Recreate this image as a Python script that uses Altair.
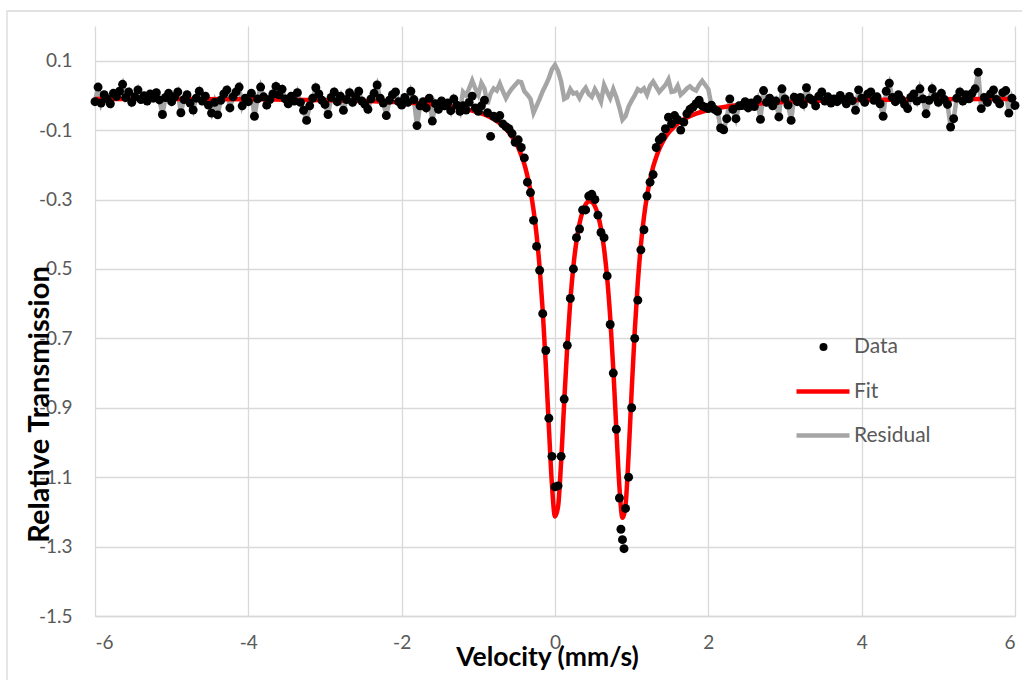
import altair as alt
import pandas as pd

# ---------------- data ----------------
vel = [
    -6.00, -5.96, -5.92, -5.88, -5.84, -5.80, -5.76, -5.72, -5.68, -5.64,
    -5.60, -5.56, -5.52, -5.48, -5.44, -5.40, -5.36, -5.32, -5.28, -5.24,
    -5.20, -5.16, -5.12, -5.08, -5.04, -5.00, -4.96, -4.92, -4.88, -4.84,
    -4.80, -4.76, -4.72, -4.68, -4.64, -4.60, -4.56, -4.52, -4.48, -4.44,
    -4.40, -4.36, -4.32, -4.28, -4.24, -4.20, -4.16, -4.12, -4.08, -4.04,
    -4.00, -3.96, -3.92, -3.88, -3.84, -3.80, -3.76, -3.72, -3.68, -3.64,
    -3.60, -3.56, -3.52, -3.48, -3.44, -3.40, -3.36, -3.32, -3.28, -3.24,
    -3.20, -3.16, -3.12, -3.08, -3.04, -3.00, -2.96, -2.92, -2.88, -2.84,
    -2.80, -2.76, -2.72, -2.68, -2.64, -2.60, -2.56, -2.52, -2.48, -2.44,
    -2.40, -2.36, -2.32, -2.28, -2.24, -2.20, -2.16, -2.12, -2.08, -2.04,
    -2.00, -1.96, -1.92, -1.88, -1.84, -1.80, -1.76, -1.72, -1.68, -1.64,
    -1.60, -1.56, -1.52, -1.48, -1.44, -1.40, -1.36, -1.32, -1.28, -1.24,
    -1.20, -1.16, -1.12, -1.08, -1.04, -1.00, -0.96, -0.92, -0.88, -0.84,
    -0.80, -0.76, -0.72, -0.68, -0.64, -0.60, -0.56, -0.52, -0.48, -0.44,
    -0.40, -0.36, -0.32, -0.28, -0.24, -0.20, -0.16, -0.12, -0.08, -0.04,
    0.00, 0.04, 0.08, 0.12, 0.16, 0.20, 0.24, 0.28, 0.32, 0.36,
    0.40, 0.44, 0.48, 0.52, 0.56, 0.60, 0.64, 0.68, 0.72, 0.76,
    0.80, 0.84, 0.88, 0.92, 0.96, 1.00, 1.04, 1.08, 1.12, 1.16,
    1.20, 1.24, 1.28, 1.32, 1.36, 1.40, 1.44, 1.48, 1.52, 1.56,
    1.60, 1.64, 1.68, 1.72, 1.76, 1.80, 1.84, 1.88, 1.92, 1.96,
    2.00, 2.04, 2.08, 2.12, 2.16, 2.20, 2.24, 2.28, 2.32, 2.36,
    2.40, 2.44, 2.48, 2.52, 2.56, 2.60, 2.64, 2.68, 2.72, 2.76,
    2.80, 2.84, 2.88, 2.92, 2.96, 3.00, 3.04, 3.08, 3.12, 3.16,
    3.20, 3.24, 3.28, 3.32, 3.36, 3.40, 3.44, 3.48, 3.52, 3.56,
    3.60, 3.64, 3.68, 3.72, 3.76, 3.80, 3.84, 3.88, 3.92, 3.96,
    4.00, 4.04, 4.08, 4.12, 4.16, 4.20, 4.24, 4.28, 4.32, 4.36,
    4.40, 4.44, 4.48, 4.52, 4.56, 4.60, 4.64, 4.68, 4.72, 4.76,
    4.80, 4.84, 4.88, 4.92, 4.96, 5.00, 5.04, 5.08, 5.12, 5.16,
    5.20, 5.24, 5.28, 5.32, 5.36, 5.40, 5.44, 5.48, 5.52, 5.56,
    5.60, 5.64, 5.68, 5.72, 5.76, 5.80, 5.84, 5.88, 5.92, 5.96,
    6.00,
]

trans = [
    -0.018, 0.024, -0.022, 0.002, -0.010, -0.024, 0.006, -0.003, 0.012, 0.032,
    -0.006, 0.010, -0.020, -0.004, 0.016, -0.012, -0.001, -0.016, 0.004, -0.008,
    0.008, -0.013, -0.055, -0.006, 0.006, -0.018, -0.004, 0.010, -0.050, -0.012,
    0.002, -0.022, -0.042, -0.008, 0.012, -0.016, -0.002, -0.028, -0.051, -0.020,
    -0.056, -0.014, 0.004, 0.016, -0.036, -0.004, 0.010, 0.024, -0.030, -0.008,
    -0.018, 0.006, -0.060, -0.010, 0.024, -0.004, -0.028, -0.012, 0.004, 0.026,
    0.002, 0.018, -0.010, -0.024, -0.002, -0.016, 0.008, -0.020, -0.043, -0.072,
    -0.030, -0.008, 0.022, 0.004, -0.014, -0.026, -0.055, -0.006, 0.010, -0.018,
    -0.002, -0.043, -0.012, 0.008, -0.020, -0.004, 0.012, -0.016, -0.026, -0.040,
    -0.010, 0.006, 0.030, -0.008, -0.022, -0.058, -0.014, 0.002, 0.010, -0.018,
    -0.028, -0.006, -0.020, 0.012, -0.012, -0.087, -0.030, -0.018, -0.036, -0.008,
    -0.074, -0.024, -0.040, -0.016, -0.030, -0.022, -0.044, -0.010, -0.028, -0.046,
    -0.030, -0.042, -0.020, -0.002, -0.036, -0.046, -0.030, -0.014, -0.050, -0.118,
    -0.060, -0.066, -0.058, -0.082, -0.090, -0.096, -0.110, -0.135, -0.128, -0.150,
    -0.180, -0.250, -0.280, -0.360, -0.435, -0.504, -0.629, -0.735, -0.930, -1.040,
    -1.128, -1.125, -1.040, -0.875, -0.720, -0.585, -0.500, -0.410, -0.385, -0.330,
    -0.330, -0.290, -0.285, -0.300, -0.345, -0.395, -0.410, -0.520, -0.660, -0.800,
    -0.962, -1.160, -1.280, -1.190, -1.100, -0.900, -0.700, -0.590, -0.445, -0.387,
    -0.290, -0.250, -0.228, -0.150, -0.128, -0.120, -0.096, -0.063, -0.082, -0.058,
    -0.070, -0.100, -0.077, -0.053, -0.040, -0.034, -0.024, -0.014, -0.030, -0.034,
    -0.038, -0.028, -0.040, -0.046, -0.094, -0.099, -0.067, -0.010, -0.040, -0.067,
    -0.030, -0.029, -0.018, -0.036, -0.022, -0.032, -0.012, -0.069, 0.014, -0.020,
    -0.008, -0.030, -0.016, -0.062, 0.019, -0.010, -0.028, -0.072, -0.005, -0.018,
    -0.006, -0.026, 0.022, -0.008, -0.014, -0.030, -0.002, 0.010, -0.016, -0.004,
    -0.022, -0.010, -0.018, 0.000, -0.012, -0.024, -0.003, -0.015, -0.043, 0.016,
    -0.008, -0.020, 0.004, 0.010, -0.014, -0.004, -0.024, -0.060, 0.012, 0.035,
    -0.006, -0.018, 0.002, -0.012, -0.026, -0.038, -0.006, 0.004, -0.016, 0.019,
    -0.010, -0.053, -0.014, 0.019, -0.004, -0.020, 0.006, -0.012, -0.026, -0.091,
    -0.067, -0.008, 0.010, -0.016, 0.002, -0.010, 0.006, 0.019, 0.067, -0.038,
    -0.006, -0.020, 0.004, 0.016, -0.012, -0.024, 0.008, 0.014, -0.051, -0.008,
    -0.029,
]

# two extra channels seen at the bottom of the second line
extra_vel = [0.86, 0.90]
extra_trans = [-1.250, -1.306]

# residual trace where it separates from the data (-1.20 .. 2.00 mm/s)
resid_mid = [
    0.010, 0.000, 0.020, 0.043, 0.020, 0.002, 0.036, 0.020, -0.025, 0.005,
    0.020, 0.014, 0.034, 0.012, -0.008, 0.008, 0.020, 0.030, 0.040, 0.038,
    0.012, 0.002, -0.010, -0.050, -0.030, -0.010, 0.012, 0.030, 0.050, 0.075,
    0.088, 0.070, 0.040, -0.010, -0.005, 0.018, 0.005, 0.008, -0.008, 0.010,
    0.022, 0.004, -0.004, 0.018, 0.002, -0.018, 0.030, 0.010, -0.008, 0.018,
    -0.005, -0.035, -0.070, -0.060, -0.032, -0.015, 0.000, 0.018, 0.012, 0.020,
    0.002, 0.028, 0.040, 0.025, 0.010, 0.020, 0.030, 0.046, 0.010, 0.012,
    0.028, 0.002, 0.010, 0.020, 0.026, 0.018, 0.014, 0.030, 0.042, 0.030,
    0.018,
]

fit_vel = [
    -6.0, -5.0, -4.0, -3.0, -2.5, -2.0, -1.75, -1.5, -1.25, -1.0,
    -0.9, -0.8, -0.7, -0.6, -0.5, -0.44, -0.40, -0.36, -0.32, -0.28,
    -0.24, -0.20, -0.16, -0.12, -0.08, -0.04, 0.00, 0.04, 0.08, 0.12,
    0.16, 0.20, 0.24, 0.28, 0.32, 0.36, 0.40, 0.44, 0.48, 0.52,
    0.56, 0.60, 0.64, 0.68, 0.72, 0.76, 0.80, 0.84, 0.88, 0.92,
    0.96, 1.00, 1.04, 1.08, 1.12, 1.16, 1.20, 1.24, 1.28, 1.32,
    1.36, 1.40, 1.44, 1.48, 1.52, 1.56, 1.60, 1.64, 1.68, 1.72,
    1.76, 1.80, 2.0, 2.25, 2.5, 3.0, 4.0, 5.0, 6.0,
]
fit_trans = [
    -0.010, -0.010, -0.011, -0.014, -0.016, -0.020, -0.023, -0.028, -0.036, -0.049,
    -0.057, -0.068, -0.084, -0.107, -0.141, -0.172, -0.198, -0.232, -0.275, -0.330,
    -0.402, -0.497, -0.621, -0.777, -0.955, -1.121, -1.213, -1.185, -1.055, -0.884,
    -0.723, -0.591, -0.492, -0.420, -0.369, -0.335, -0.314, -0.305, -0.307, -0.319,
    -0.344, -0.384, -0.442, -0.525, -0.639, -0.787, -0.962, -1.127, -1.217, -1.180,
    -1.036, -0.851, -0.680, -0.540, -0.432, -0.351, -0.290, -0.243, -0.206, -0.178,
    -0.155, -0.136, -0.121, -0.108, -0.098, -0.089, -0.081, -0.075, -0.069, -0.064,
    -0.060, -0.056, -0.042, -0.032, -0.026, -0.019, -0.013, -0.011, -0.010,
]

x_ticks = [-6, -4, -2, 0, 2, 4, 6]
y_ticks = [-1.5, -1.3, -1.1, -0.9, -0.7, -0.5, -0.3, -0.1, 0.1]

# ---------------- tables ----------------
data_df = pd.DataFrame({"v": vel + extra_vel, "t": trans + extra_trans})
data_df["series"] = "Data"
resid_df = pd.DataFrame({"v": vel, "t": trans[:120] + resid_mid + trans[201:]})
resid_df["series"] = "Residual"
fit_df = pd.DataFrame({"v": fit_vel, "t": fit_trans})
fit_df["series"] = "Fit"

FONT = "Lato"
LABEL_GRAY = "#595959"
GRID = "#d9d9d9"

xscale = alt.Scale(domain=[-6, 6], nice=False, zero=False)
yscale = alt.Scale(domain=[-1.5, 0.2], nice=False, zero=False)

x_axis = alt.Axis(
    values=x_ticks, title="Velocity (mm/s)", grid=True, gridColor=GRID, gridWidth=1.3,
    domainColor=GRID, domainWidth=1.3, ticks=False, tickSize=0, labelPadding=17,
    labelFont=FONT, labelFontSize=19, labelColor=LABEL_GRAY,
    labelExpr="(datum.value < 0 ? '-' : '') + format(abs(datum.value), 'd')",
    titleFont=FONT, titleFontSize=26.5, titleFontWeight="bold", titleColor="black",
    titleX=452, titleY=49, titleAlign="center", titleBaseline="alphabetic",
)
y_axis = alt.Axis(
    values=y_ticks, title="Relative Transmission", grid=True, gridColor=GRID, gridWidth=1.3,
    domain=False, ticks=False, tickSize=0, labelPadding=23,
    labelFont=FONT, labelFontSize=19, labelColor=LABEL_GRAY,
    labelExpr="(datum.value < 0 ? '-' : '') + format(abs(datum.value), '.1f')",
    titleFont=FONT, titleFontSize=29, titleFontWeight="bold", titleColor="black",
    titleAngle=270, titleX=-47, titleY=378, titleAlign="center", titleBaseline="alphabetic",
)

X = alt.X("v:Q", scale=xscale, axis=x_axis)
Y = alt.Y("t:Q", scale=yscale, axis=y_axis)

def legend(x, y, **kw):
    return alt.Legend(
        title=None, orient="none", legendX=x, legendY=y, padding=0,
        labelFont=FONT, labelFontSize=21, labelColor=LABEL_GRAY, **kw,
    )

frame = alt.Chart(pd.DataFrame({"k": [0]})).mark_rect(
    fillOpacity=0, stroke=GRID, strokeWidth=1.3
).encode(
    x=alt.value(-88), x2=alt.value(940), y=alt.value(-15), y2=alt.value(680)
)

resid = alt.Chart(resid_df).mark_line(strokeWidth=4.5).encode(
    x=X, y=Y,
    color=alt.Color("series:N", scale=alt.Scale(domain=["Residual"], range=["#a5a5a5"]),
                    legend=legend(699, 380.5, symbolType="stroke", symbolSize=2809,
                                  symbolStrokeWidth=4.5, labelOffset=2)),
)
fit = alt.Chart(fit_df).mark_line(strokeWidth=4.5, interpolate="monotone").encode(
    x=X, y=Y,
    color=alt.Color("series:N", scale=alt.Scale(domain=["Fit"], range=["#ff0000"]),
                    legend=legend(699, 336.5, symbolType="stroke", symbolSize=2809,
                                  symbolStrokeWidth=4.5, labelOffset=2)),
)
pts = alt.Chart(data_df).mark_circle(size=80, opacity=1).encode(
    x=X, y=Y,
    color=alt.Color("series:N", scale=alt.Scale(domain=["Data"], range=["#000000"]),
                    legend=legend(718, 310.5, symbolType="circle", symbolSize=64,
                                  labelOffset=20)),
)

chart = (
    alt.layer(frame, resid, fit, pts)
    .resolve_scale(color="independent")
    .properties(
        width=920, height=590, autosize="none",
        padding={"left": 95, "top": 26, "right": 7, "bottom": 64},
        background="white",
    )
    .configure_view(stroke=None)
)

chart.save("out.html", embed_options={"renderer": "svg", "actions": False})
